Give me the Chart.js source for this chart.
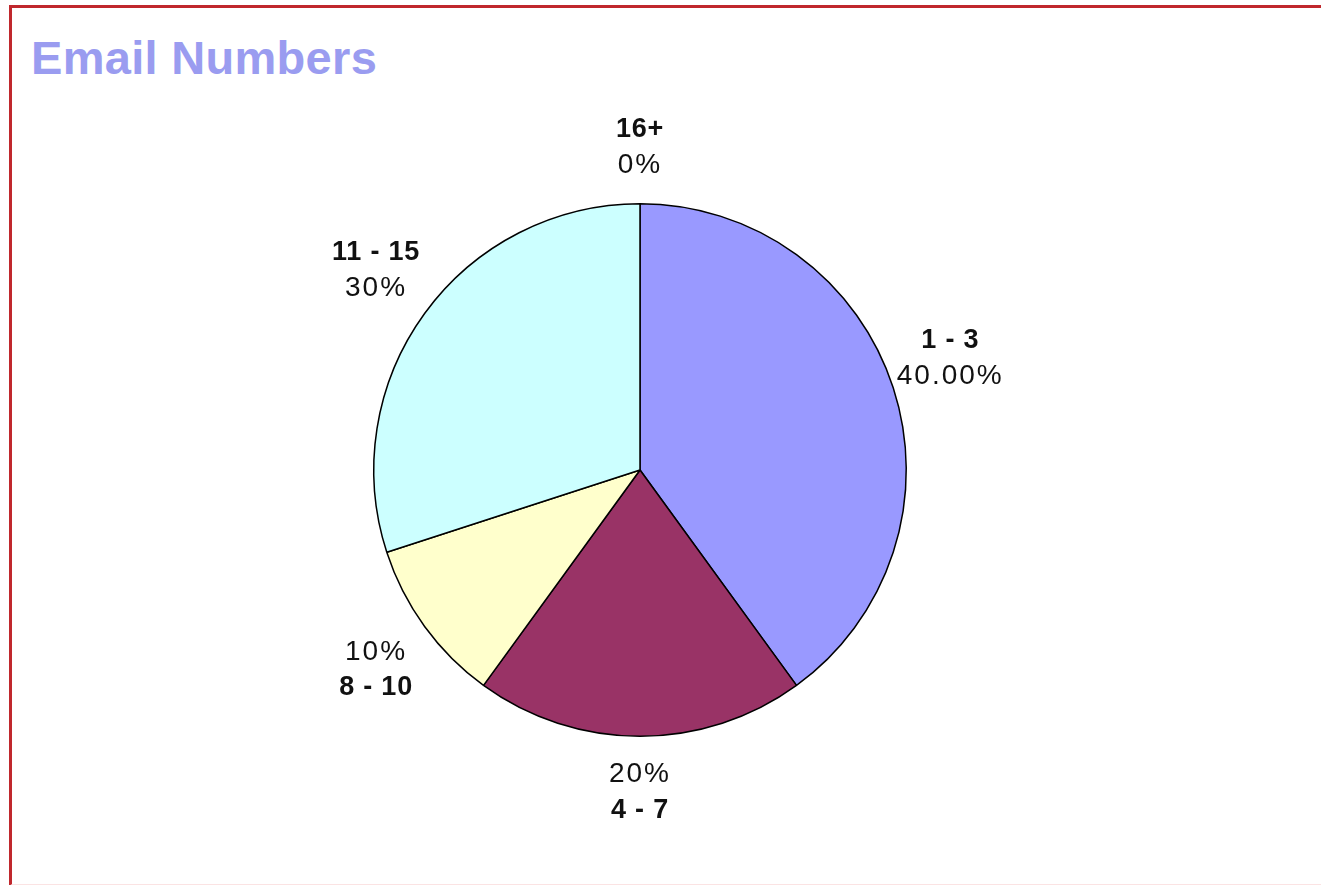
<!DOCTYPE html>
<html>
<head>
<meta charset="utf-8">
<title>Email Numbers</title>
<script src="https://cdn.jsdelivr.net/npm/chart.js@4/dist/chart.umd.min.js"></script>
<style>
    html, body { margin: 0; padding: 0; background: #fff; }
    #frame {
        position: absolute; left: 9px; top: 5px; width: 1330px; height: 876px;
        border-top: 3px solid #c0282d; border-left: 3px solid #c0282d;
        border-bottom: 2px solid #fbe3e3;
    }
    #title {
        position: absolute; left: 31px; top: 30px; margin: 0;
        font: bold 47px "Liberation Sans", Arial, sans-serif; color: #9a9cf0;
        letter-spacing: 0.3px;
    }
    canvas { position: absolute; left: 0; top: 0; }
</style>
</head>
<body>
<div id="frame"></div>
<h1 id="title">Email Numbers</h1>
<canvas id="emailChart" width="1321" height="885"></canvas>
<script>
const categories = ['1 - 3', '4 - 7', '8 - 10', '11 - 15', '16+'];
const shares = [40, 20, 10, 30, 0];
const shareLabels = ['40.00%', '20%', '10%', '30%', '0%'];
const sliceColors = ['#9999ff', '#993366', '#ffffcc', '#ccffff', '#ffffff'];

// draws the two-line label next to each slice
const outsideLabels = {
    id: 'outsideLabels',
    afterDatasetsDraw(chart) {
        const ctx = chart.ctx;
        const arcs = chart.getDatasetMeta(0).data;
        ctx.save();
        ctx.fillStyle = '#111';
        ctx.textAlign = 'center';
        ctx.textBaseline = 'middle';
        arcs.forEach((arc, i) => {
            const mid = (arc.startAngle + arc.endAngle) / 2;
            const sin = Math.sin(mid), cos = Math.cos(mid);
            const cx = arc.x + cos * (arc.outerRadius + 60);
            const cy = arc.y + sin * (arc.outerRadius + 56) + Math.sign(sin) * 13 * Math.abs(cos);
            const lower = sin > 0.1;
            const nameY = lower ? cy + 18 : cy - 18;
            const pctY = lower ? cy - 18 : cy + 18;
            ctx.letterSpacing = '0.8px';
            ctx.font = 'bold 27px "Liberation Sans", Arial, sans-serif';
            ctx.fillText(categories[i], cx, nameY);
            ctx.letterSpacing = '2px';
            ctx.font = '28px "Liberation Sans", Arial, sans-serif';
            ctx.fillText(shareLabels[i], cx, pctY);
        });
        ctx.restore();
    }
};

const ctx = document.getElementById('emailChart').getContext('2d');
new Chart(ctx, {
    type: 'pie',
    data: {
        labels: categories,
        datasets: [{
            data: shares,
            backgroundColor: sliceColors,
            borderColor: '#000000',
            borderWidth: 1.5
        }]
    },
    options: {
        responsive: false,
        animation: false,
        layout: {
            padding: { top: 203, bottom: 148, left: 300, right: 341 }
        },
        plugins: {
            legend: { display: false },
            tooltip: { enabled: false }
        }
    },
    plugins: [outsideLabels]
});
</script>
</body>
</html>
